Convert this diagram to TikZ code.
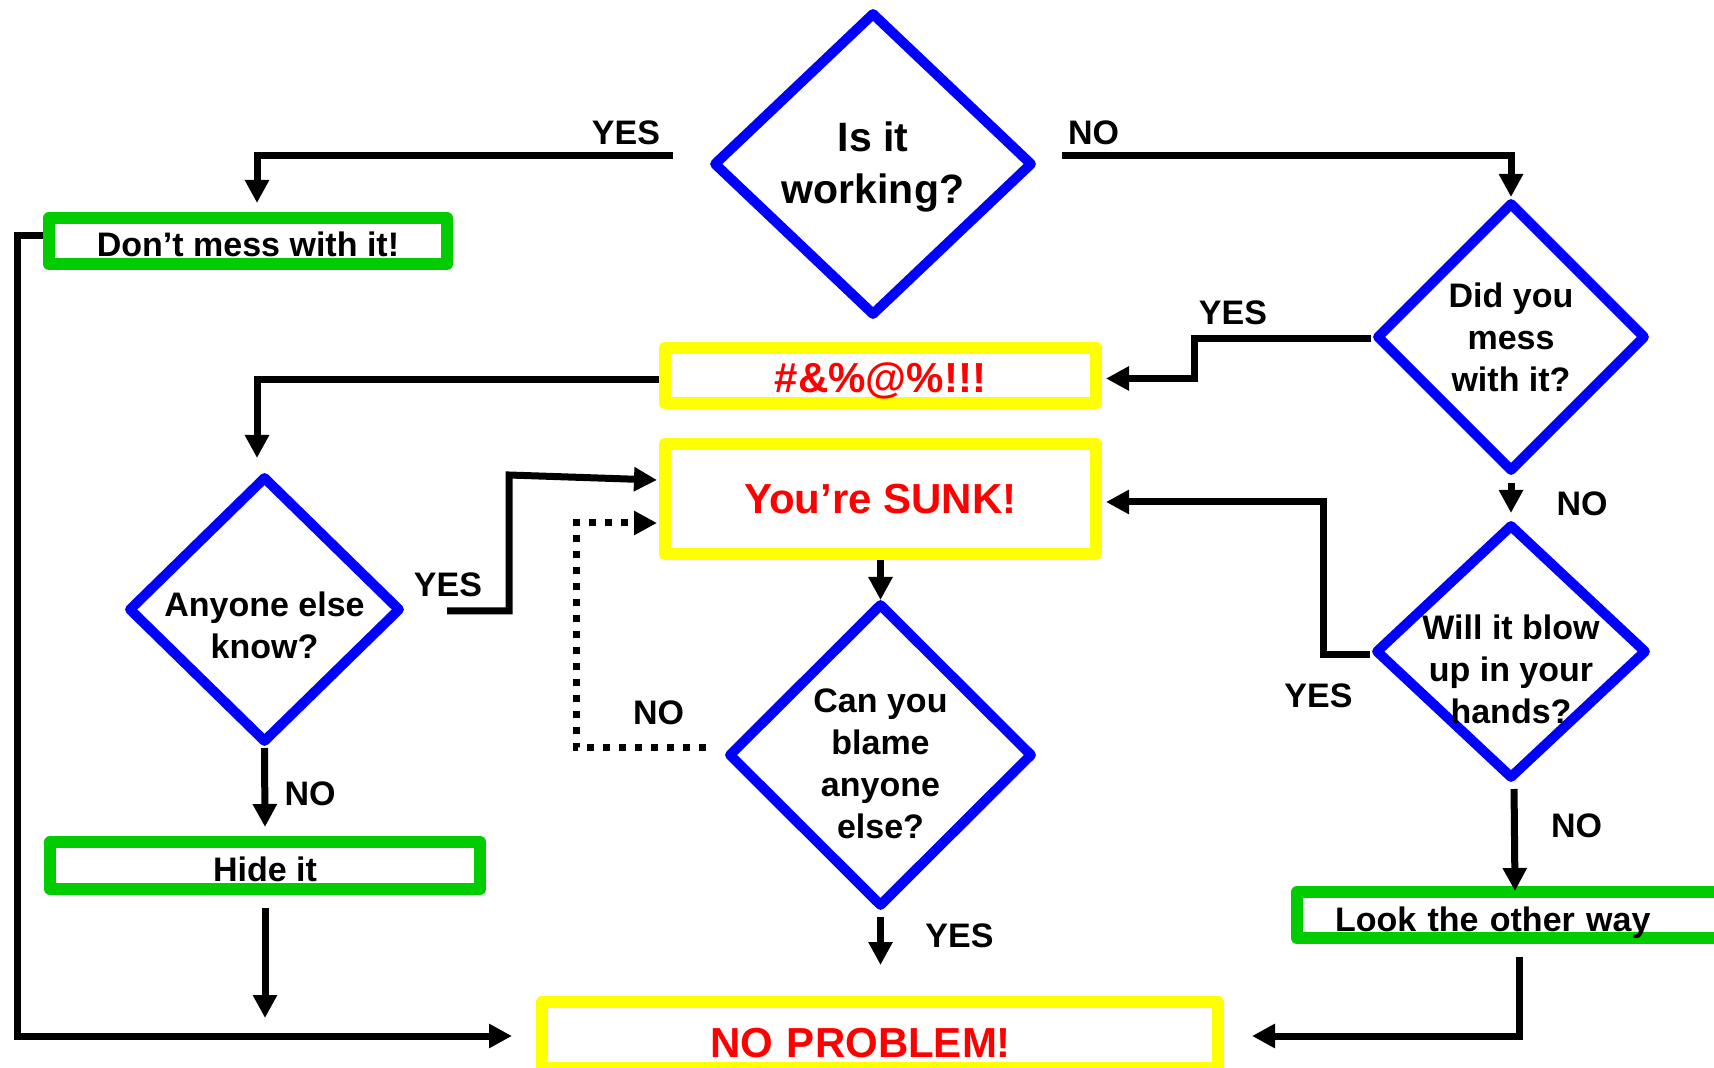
\documentclass[tikz,border=0pt]{standalone}
\usepackage{fontspec}
\setmainfont{Liberation Sans}
\usetikzlibrary{arrows.meta, shapes.geometric}
\definecolor{qblue}{RGB}{0,0,255}
\definecolor{okgreen}{RGB}{0,204,0}
\definecolor{alarm}{RGB}{255,255,0}
\definecolor{shout}{RGB}{255,0,0}
\newcommand{\sinkby}[1]{\rule{0pt}{#1}}

\begin{document}
\begin{tikzpicture}[x=0.5pt, y=-0.5pt,
    font=\bfseries\fontsize{17}{21}\selectfont,
    decision/.style={diamond, draw=qblue, line width=5pt, line join=round,
                     align=center, inner sep=-10pt},
    okbox/.style={draw=okgreen, line width=6pt, line join=round, text depth=0pt,
                  minimum width=215pt, minimum height=23pt, inner sep=0pt},
    alarmbox/.style={draw=alarm, line width=6pt, line join=round, text=shout, text depth=0pt,
                     font=\bfseries\fontsize{21}{25}\selectfont, inner sep=0pt},
    flow/.style={line width=3.5pt, -{Triangle[length=11.5pt,width=11.5pt]}},
    guess/.style={flow, dash pattern=on 3.5pt off 4.5pt},
    answer/.style={inner sep=0pt}]
  \fill[white] (0,0) rectangle (1714,1068);
  \useasboundingbox (0,0) rectangle (1714,1068);

  % questions
  \node[decision, font=\bfseries\fontsize{20.5}{26}\selectfont,
        minimum width=160pt, minimum height=152pt] (working) at (873,164) {\sinkby{18pt}Is it\\working?};
  \node[decision, minimum width=135pt, minimum height=135pt] (mess) at (1511,337) {Did you\\mess\\with it?};
  \node[decision, minimum width=136.5pt, minimum height=133.5pt] (anyone) at (264.5,609.5)
        {\sinkby{28.5pt}Anyone else\\know?};
  \node[decision, minimum width=152.5pt, minimum height=152pt] (blame) at (880.5,755)
        {\sinkby{20.5pt}Can you\\blame\\anyone\\else?};
  \node[decision, minimum width=136pt, minimum height=127.5pt] (blow) at (1511,651.5)
        {\sinkby{30pt}Will it blow\\up in your\\hands?};

  % outcomes
  \node[okbox, minimum width=199pt, text height=16pt] (dont) at (248,241) {Don’t mess with it!};
  \node[alarmbox, minimum width=215.5pt, minimum height=27.5pt, text height=17.5pt] (curse)
        at (880.5,375.5) {\#\&\%@\%!!!};
  \node[alarmbox, minimum width=215.5pt, minimum height=55pt, text height=15pt] (sunk)
        at (880.5,499) {You’re SUNK!};
  \node[okbox, minimum height=23.5pt, text height=16.5pt] (hide) at (265,865.5) {Hide it};
  \node[okbox, text width=177pt, inner xsep=19pt, align=left, text height=16pt] (look)
        at (1512,915) {Look the other way};
  \node[alarmbox, minimum height=33pt, text width=170pt, inner xsep=84pt, align=left,
        text height=22pt] (noproblem) at (880,1035) {NO PROBLEM!};

  % answers
  \node[answer] (yesdont) at (626,132.5) {YES};
  \node[answer] (noworking) at (1093.5,132.5) {NO};
  \node[answer] (yesmess) at (1233,312.5) {YES};
  \node[answer] (nomess) at (1582,504) {NO};
  \node[answer] (yesanyone) at (448,585) {YES};
  \node[answer] (noanyone) at (310,793.5) {NO};
  \node[answer] (noblame) at (658.5,712.5) {NO};
  \node[answer] (yesblame) at (959.5,935.5) {YES};
  \node[answer] (yesblow) at (1318.5,695.5) {YES};
  \node[answer] (noblow) at (1576.5,825.5) {NO};

  % connectors
  \draw[flow] ([shift={(-35,-8)}]working.west) -| ([shift={(9,-9)}]dont.north);
  \draw[flow] ([shift={(24,-8)}]working.east) -| (mess.north);
  \draw[flow] ([shift={(0,2)}]mess.west) -- ++(-177,0) |- ([shift={(4,3)}]curse.east);
  \draw[flow] ([shift={(0,4.5)}]curse.west) -| ([shift={(-7.5,-13)}]anyone.north);
  \draw[flow] ([shift={(41,1.5)}]anyone.east) -- ++(62,0) -- ++(0,-136)
        -- ([shift={(-2,-19)}]sunk.west);
  \draw[guess] ([shift={(-17,-7)}]blame.west) -- ++(-130,0) |- ([shift={(-2,24)}]sunk.west);
  \draw[flow] (sunk.south) -- ([shift={(0,2)}]blame.north);
  \draw[flow, shorten <=3pt, shorten >=3pt] (mess.south) -- (blow.north);
  \draw[flow] ([shift={(0,3.5)}]blow.west) -- ++(-47,0) |- ([shift={(4,3)}]sunk.east);
  \draw[flow, shorten <=2.5pt] ([shift={(3,0)}]blow.south) -- ([shift={(3,5)}]look.north);
  \draw[flow] (anyone.south) -- ([shift={(0,-9)}]hide.north);
  \coordinate (hidejoin) at (265,1018);
  \draw[flow, shorten <=6.5pt] (hide.south) -- (hidejoin);
  \draw[flow] ([shift={(0,-5)}]dont.west) -- ++(-26,0) |- ([shift={(-24,1)}]noproblem.west);
  \draw[flow, shorten <=2.5pt] (blame.south) -- ([shift={(0.5,-31)}]noproblem.north);
  \draw[flow] ([shift={(7,13)}]look.south) |- ([shift={(28,1)}]noproblem.east);
\end{tikzpicture}
\end{document}
